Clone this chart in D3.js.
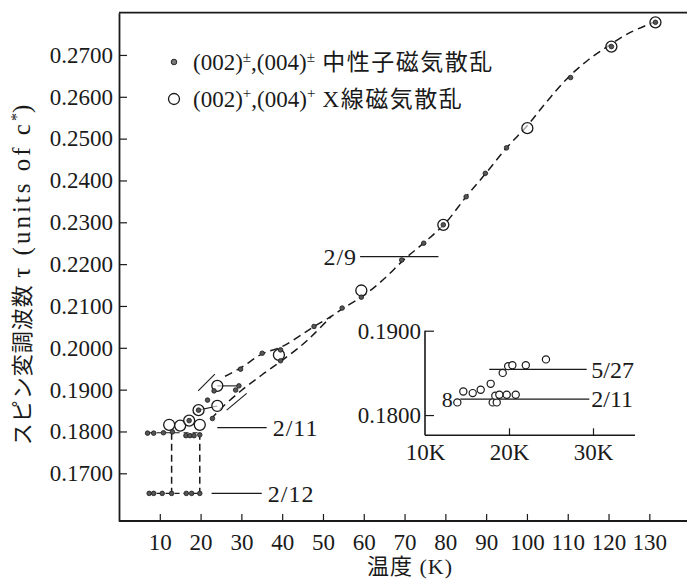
<!DOCTYPE html>
<html><head><meta charset="utf-8">
<script src="https://cdn.jsdelivr.net/npm/d3@7"></script>
<style>
body{margin:0;background:#fff}
text{font-family:'Liberation Serif','Noto Sans CJK JP',serif;fill:#1a1a1a}
</style>
</head><body><svg id="c" width="687" height="580"></svg>
<script>
// ---------- data ----------
const xTicks = [10,20,30,40,50,60,70,80,90,100,110,120,130];
const yTicks = [0.17,0.18,0.19,0.20,0.21,0.22,0.23,0.24,0.25,0.26,0.27];

// neutron magnetic scattering (filled dots)
const neutronK = [7.4,8.5,10.6,12.9,16.5,17.8,19.8,
  7.0,8.5,10.9,13.1,16.4,17.4,18.4,19.8,
  17.2,19.5,21.7,22.9,23.3,28.6,29.4,29.8,35.1,39.6,39.6,
  47.8,54.7,59.4,69.3,74.7,79.5,85.1,89.8,95.0,110.7,120.7,131.5];
const neutronV = [0.1652,0.1652,0.1652,0.1652,0.1652,0.1652,0.1652,
  0.1796,0.1796,0.1797,0.1799,0.1790,0.1790,0.1790,0.1792,
  0.1826,0.1851,0.1875,0.1831,0.1897,0.1899,0.1909,0.1949,0.1987,0.1995,0.1969,
  0.2051,0.2095,0.2121,0.2210,0.2250,0.2294,0.2361,0.2417,0.2478,0.2646,0.2720,0.2778];

// X-ray magnetic scattering (open circles)
const xrayK = [12.3,15.0,17.2,19.5,19.8,24.1,24.1,39.2,59.4,79.5,100.1,120.7,131.5];
const xrayV = [0.1816,0.1814,0.1826,0.1851,0.1816,0.1861,0.1909,0.1983,0.2137,0.2294,0.2525,0.2720,0.2778];

// dashed guide curves
const upperK = [26,30,35,40,45,48,52,55,60,65,70,75,80,85,90,95,100,105,110,115,120,125,131];
const upperV = [0.1932,0.1953,0.1985,0.2003,0.2033,0.2052,0.2075,0.2095,0.2125,0.2165,0.2212,0.2253,0.2298,0.2360,0.2418,0.2478,0.2530,0.2590,0.2645,0.2688,0.2722,0.2752,0.2778];
const lowerK = [22.5,25,30,35,40,45,48,52];
const lowerV = [0.1829,0.1855,0.1898,0.1935,0.1970,0.2008,0.2035,0.2075];

// low-temperature rows (2/11, 2/12)
const rowK = [7.0,19.8];
const row211V = 0.1797, row212V = 0.1652;
const jumpK = [12.9,19.8];

// inset
const insetXTicks = [10,20,30];
const insetYTicks = [0.18,0.19];
const in527K = [19.25,19.9,20.4,22.0,24.4];
const in527V = [0.1850,0.1858,0.1859,0.1859,0.1866];
const in211K = [13.85,14.56,15.68,16.63,17.82,18.06,18.54,18.37,18.85,19.73,20.8];
const in211V = [0.1815,0.1828,0.1826,0.1830,0.1837,0.1815,0.1815,0.1823,0.1824,0.1824,0.1824];

// ---------- drawing ----------
const svg = d3.select('#c');
const x = d3.scaleLinear().domain([0,138.5]).range([119,684]);
const y = d3.scaleLinear().domain([0.1586,0.2801]).range([521,12.7]);
const ink = '#1a1a1a';

// frame
svg.append('line').attr('x1',x(0)).attr('x2',687).attr('y1',y.range()[1]).attr('y2',y.range()[1]).attr('stroke',ink).attr('stroke-width',1.8);
const gy = svg.append('g').attr('transform',`translate(${x(0)},0)`)
  .call(d3.axisLeft(y).tickValues(yTicks).tickFormat(d3.format('.4f')).tickSize(-8).tickSizeOuter(0).tickPadding(6));
const gx = svg.append('g').attr('transform',`translate(0,${y.range()[0]})`)
  .call(d3.axisBottom(x).tickValues(xTicks).tickSize(-7).tickSizeOuter(0).tickPadding(13));
[gx,gy].forEach(g=>{
  g.select('.domain').attr('stroke',ink).attr('stroke-width',1.8);
  g.selectAll('.tick line').attr('stroke',ink).attr('stroke-width',1.2);
  g.selectAll('.tick text').style('font-family',"'Liberation Serif',serif").style('font-size','23px').attr('fill',ink);
});
gx.select('.domain').attr('d',`M${x(0)},0H687`);

// axis titles
svg.append('text').attr('x',410).attr('y',574).attr('text-anchor','middle').style('font-size','22px').style('letter-spacing','1px').text('温度 (K)');
const yt = svg.append('text').attr('transform','translate(30,275) rotate(-90)').attr('text-anchor','middle').style('font-size','22px');
yt.append('tspan').style('letter-spacing','1px').text('スピン変調波数 ');
yt.append('tspan').style('font-size','25px').style('letter-spacing','3px').text('τ (units of c');
yt.append('tspan').attr('dy',-8).style('font-size','16px').text('*');
yt.append('tspan').attr('dy',8).style('font-size','25px').text(')');

// dashed curves
const line = d3.line().x(d=>x(d[0])).y(d=>y(d[1])).curve(d3.curveCatmullRom);
svg.append('path').datum(upperK.map((k,i)=>[k,upperV[i]])).attr('d',line)
  .attr('fill','none').attr('stroke',ink).attr('stroke-width',1.5).attr('stroke-dasharray','8,5');
svg.append('path').datum(lowerK.map((k,i)=>[k,lowerV[i]])).attr('d',line)
  .attr('fill','none').attr('stroke',ink).attr('stroke-width',1.5).attr('stroke-dasharray','8,5');

// rows and jumps
[row211V,row212V].forEach(v=>{
  svg.append('line').attr('x1',x(rowK[0])).attr('x2',x(rowK[1])).attr('y1',y(v)).attr('y2',y(v))
    .attr('stroke',ink).attr('stroke-width',1.2).attr('stroke-dasharray','5,4');
});
jumpK.forEach(k=>{
  svg.append('line').attr('x1',x(k)).attr('x2',x(k)).attr('y1',y(row211V)).attr('y2',y(row212V))
    .attr('stroke',ink).attr('stroke-width',1.5).attr('stroke-dasharray','7,4');
});

// short solid guide strokes & connectors
const segs = [[[19.4,0.1897],[23.5,0.1937]],[[26.4,0.1851],[31.3,0.1891]],
  [[19.5,0.1851],[24.1,0.1861]],[[24.1,0.1909],[29.4,0.1909]]];
segs.forEach(s=>svg.append('line').attr('x1',x(s[0][0])).attr('y1',y(s[0][1])).attr('x2',x(s[1][0])).attr('y2',y(s[1][1]))
  .attr('stroke',ink).attr('stroke-width',1.1));

// label lines
const labels = [
  {k1:59.1,k2:78.3,v:0.2218,t:'2/9',side:'left'},
  {k1:24.1,k2:36.2,v:0.1809,t:'2/11',side:'right'},
  {k1:22.7,k2:35.0,v:0.1652,t:'2/12',side:'right'}];
labels.forEach(l=>{
  svg.append('line').attr('x1',x(l.k1)).attr('x2',x(l.k2)).attr('y1',y(l.v)).attr('y2',y(l.v)).attr('stroke',ink).attr('stroke-width',1.2);
  svg.append('text').attr('x',l.side==='left'?x(l.k1)-3:x(l.k2)+6).attr('y',y(l.v)).attr('dy','0.35em')
    .attr('text-anchor',l.side==='left'?'end':'start').style('font-size','24px').style('letter-spacing','1px').text(l.t);
});

// points
svg.append('g').selectAll('circle').data(xrayK.map((k,i)=>[k,xrayV[i]])).join('circle')
  .attr('cx',d=>x(d[0])).attr('cy',d=>y(d[1])).attr('r',5.5).attr('fill','#fff').attr('fill-opacity',0.6).attr('stroke',ink).attr('stroke-width',1.3);
svg.append('g').selectAll('circle').data(neutronK.map((k,i)=>[k,neutronV[i]])).join('circle')
  .attr('cx',d=>x(d[0])).attr('cy',d=>y(d[1])).attr('r',2.3).attr('fill','#555').attr('stroke',ink).attr('stroke-width',0.8);

// legend
svg.append('circle').attr('cx',174).attr('cy',62).attr('r',2.8).attr('fill','#777').attr('stroke',ink).attr('stroke-width',0.9);
svg.append('circle').attr('cx',174).attr('cy',99).attr('r',5.5).attr('fill','#fff').attr('stroke',ink).attr('stroke-width',1.3);
const l1 = svg.append('text').attr('x',193).attr('y',70).style('font-size','23px');
l1.append('tspan').text('(002)'); l1.append('tspan').attr('dy',-8).style('font-size','15px').text('±');
l1.append('tspan').attr('dy',8).text(',(004)'); l1.append('tspan').attr('dy',-8).style('font-size','15px').text('±');
l1.append('tspan').attr('dy',8).style('letter-spacing','1.5px').text(' 中性子磁気散乱');
const l2 = svg.append('text').attr('x',193).attr('y',107).style('font-size','23px');
l2.append('tspan').text('(002)'); l2.append('tspan').attr('dy',-9).style('font-size','15px').text('+');
l2.append('tspan').attr('dy',9).text(',(004)'); l2.append('tspan').attr('dy',-9).style('font-size','15px').text('+');
l2.append('tspan').attr('dy',9).style('letter-spacing','1.5px').text(' X線磁気散乱');

// inset
const xi = d3.scaleLinear().domain([10,35]).range([425,635]);
const yi = d3.scaleLinear().domain([0.1776,0.19]).range([435.3,330.7]);
const gyi = svg.append('g').attr('transform',`translate(${xi(10)},0)`)
  .call(d3.axisLeft(yi).tickValues(insetYTicks).tickFormat(d3.format('.4f')).tickSize(-9).tickSizeOuter(0).tickPadding(4));
const gxi = svg.append('g').attr('transform',`translate(0,${yi(0.1776)})`)
  .call(d3.axisBottom(xi).tickValues(insetXTicks).tickFormat(d=>d+'K').tickSize(-7).tickSizeOuter(0).tickPadding(8));
[gxi,gyi].forEach(g=>{
  g.select('.domain').attr('stroke',ink).attr('stroke-width',1.6);
  g.selectAll('.tick line').attr('stroke',ink).attr('stroke-width',1.2);
  g.selectAll('.tick text').style('font-family',"'Liberation Serif',serif").style('font-size','23px').attr('fill',ink);
});
gyi.select('.domain').attr('d',`M0,${yi(0.19)}V${yi(0.1776)}`);
gxi.select('.domain').attr('d',`M${xi(10)},0H${xi(35)}`);
gxi.selectAll('.tick').filter(d=>d===10).select('line').remove();

const insetLabels = [{k1:17.65,k2:29.25,v:0.18542,t:'5/27'},{k1:14.2,k2:29.56,v:0.1819,t:'2/11'}];
insetLabels.forEach(l=>{
  svg.append('line').attr('x1',xi(l.k1)).attr('x2',xi(l.k2)).attr('y1',yi(l.v)).attr('y2',yi(l.v)).attr('stroke',ink).attr('stroke-width',1.2);
  svg.append('text').attr('x',xi(29.8)).attr('y',yi(l.v)).attr('dy','0.35em').style('font-size','24px').text(l.t);
});
svg.append('text').attr('x',xi(12.66)).attr('y',yi(0.1819)).attr('dy','0.35em').attr('text-anchor','middle').style('font-size','22px').text('8');
svg.append('g').selectAll('circle').data(in527K.map((k,i)=>[k,in527V[i]]).concat(in211K.map((k,i)=>[k,in211V[i]]))).join('circle')
  .attr('cx',d=>xi(d[0])).attr('cy',d=>yi(d[1])).attr('r',3.6).attr('fill','#fff').attr('stroke',ink).attr('stroke-width',1.2);
</script>
</body></html>
